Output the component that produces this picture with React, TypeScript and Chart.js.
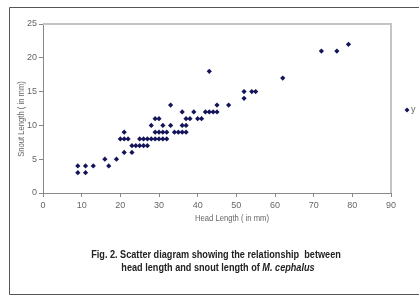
import React, { useEffect, useRef } from "react";
import { Chart, registerables } from "chart.js";

Chart.register(...registerables);

// Head length (mm) and snout length (mm) for each fish
const headLength = [
  9, 11,
  9, 11, 13, 17,
  16, 19,
  21, 23,
  23, 24, 25, 26, 27,
  20, 21, 22, 25, 26, 27, 28, 29, 30, 31, 32,
  21, 29, 30, 31, 32, 34, 35, 36, 37,
  28, 31, 33, 36, 37,
  29, 30, 37, 38, 40, 41,
  36, 39, 42, 43, 44, 45,
  33, 45, 48,
  52,
  52, 54, 55,
  62,
  43,
  72, 76,
  79,
];
const snoutLength = [
  3, 3,
  4, 4, 4, 4,
  5, 5,
  6, 6,
  7, 7, 7, 7, 7,
  8, 8, 8, 8, 8, 8, 8, 8, 8, 8, 8,
  9, 9, 9, 9, 9, 9, 9, 9, 9,
  10, 10, 10, 10, 10,
  11, 11, 11, 11, 11, 11,
  12, 12, 12, 12, 12, 12,
  13, 13, 13,
  14,
  15, 15, 15,
  17,
  18,
  21, 21,
  22,
];
const seriesLabel = "y";
const xTitle = "Head Length ( in mm)";
const yTitle = "Snout Length ( in mm)";
const captionLine1 = "Fig. 2. Scatter diagram showing the relationship  between";
const captionLine2a = "head length and snout length of ";
const captionLine2b = "M. cephalus";

const FONT = "'Liberation Sans Narrow', 'Arial Narrow', 'Liberation Sans', Arial, sans-serif";
const MARK = "#14145a";

// draw text squeezed horizontally (to mimic a narrow face), centred at (cx, cy)
function squeezed(c: CanvasRenderingContext2D, parts: { t: string; f: string }[], cx: number, cy: number, sx: number, angle = 0) {
  let total = 0;
  const widths = parts.map((p) => {
    c.font = p.f;
    const w = c.measureText(p.t).width;
    total += w;
    return w;
  });
  c.save();
  c.translate(cx, cy);
  c.rotate(angle);
  c.scale(sx, 1);
  c.textAlign = "left";
  c.textBaseline = "middle";
  let x = -total / 2;
  parts.forEach((p, i) => {
    c.font = p.f;
    c.fillText(p.t, x, 0);
    x += widths[i];
  });
  c.restore();
}

export default function App() {
  const ref = useRef<HTMLCanvasElement | null>(null);

  useEffect(() => {
    if (!ref.current) return;
    const decor = {
      id: "decor",
      beforeDraw(chart: any) {
        const c = chart.ctx;
        c.save();
        c.fillStyle = "#ffffff";
        c.fillRect(0, 0, chart.width, chart.height);
        c.restore();
      },
      beforeDatasetsDraw(chart: any) {
        const c = chart.ctx;
        const a = chart.chartArea;
        c.save();
        c.strokeStyle = "#c4c4c4";
        c.lineWidth = 2;
        c.beginPath();
        c.moveTo(a.left, a.top);
        c.lineTo(a.right, a.top);
        c.lineTo(a.right, a.bottom);
        c.stroke();
        c.restore();
      },
      afterDraw(chart: any) {
        const c = chart.ctx;
        c.save();
        // outer frame
        c.strokeStyle = "#555555";
        c.lineWidth = 1;
        c.beginPath();
        c.moveTo(chart.width, 7.5);
        c.lineTo(9.5, 7.5);
        c.lineTo(9.5, 294.5);
        c.lineTo(chart.width, 294.5);
        c.stroke();

        // axis titles
        c.fillStyle = "#666666";
        const tf = `9px ${FONT}`;
        squeezed(c, [{ t: xTitle, f: tf }], 232, 219, 0.85);
        squeezed(c, [{ t: yTitle, f: tf }], 22, 119, 0.85, -Math.PI / 2);

        // legend
        const ds = chart.data.datasets[0];
        const lx = 407, ly = 110;
        c.fillStyle = MARK;
        c.beginPath();
        c.moveTo(lx, ly - 2.5);
        c.lineTo(lx + 2.5, ly);
        c.lineTo(lx, ly + 2.5);
        c.lineTo(lx - 2.5, ly);
        c.closePath();
        c.fill();
        c.fillStyle = "#666666";
        c.font = tf;
        c.textAlign = "left";
        c.textBaseline = "middle";
        c.fillText(ds.label, lx + 4, ly);

        // caption
        c.fillStyle = "#222222";
        const fA = `bold 11px ${FONT}`;
        const fB = `italic bold 11px ${FONT}`;
        squeezed(c, [{ t: captionLine1, f: fA }], 216, 255, 0.83);
        squeezed(c, [{ t: captionLine2a, f: fA }, { t: captionLine2b, f: fB }], 218, 268, 0.83);
        c.restore();
      },
    };

    const chart = new Chart(ref.current, {
      type: "scatter",
      data: {
        datasets: [
          {
            label: seriesLabel,
            data: headLength.map((x, i) => ({ x, y: snoutLength[i] })),
            pointStyle: "rectRot",
            pointRadius: 2.6,
            pointBackgroundColor: MARK,
            pointBorderColor: MARK,
            pointBorderWidth: 0,
          },
        ],
      },
      options: {
        responsive: false,
        animation: false,
        devicePixelRatio: 1,
        layout: { padding: { top: 24, right: 28, left: 0, bottom: 0 } },
        plugins: {
          legend: { display: false },
          tooltip: { enabled: false },
        },
        scales: {
          x: {
            type: "linear",
            min: 0,
            max: 90,
            ticks: { stepSize: 10, color: "#666666", font: { family: FONT, size: 9 }, padding: 3 },
            grid: { drawOnChartArea: false, drawTicks: true, tickLength: 4, color: "#888888" },
            border: { color: "#888888" },
            afterFit: (s: any) => {
              s.height = 103;
            },
          },
          y: {
            type: "linear",
            min: 0,
            max: 25,
            ticks: { stepSize: 5, color: "#666666", font: { family: FONT, size: 9 }, padding: 2 },
            grid: { drawOnChartArea: false, drawTicks: true, tickLength: 4, color: "#888888" },
            border: { color: "#888888" },
            afterFit: (s: any) => {
              s.width = 43;
            },
          },
        },
      },
      plugins: [decor],
    } as any);
    return () => chart.destroy();
  }, []);

  return (
    <div style={{ position: "fixed", left: 0, top: 0, width: 419, height: 296, background: "#fff" }}>
      <canvas ref={ref} width={419} height={296} style={{ display: "block" }} />
    </div>
  );
}
